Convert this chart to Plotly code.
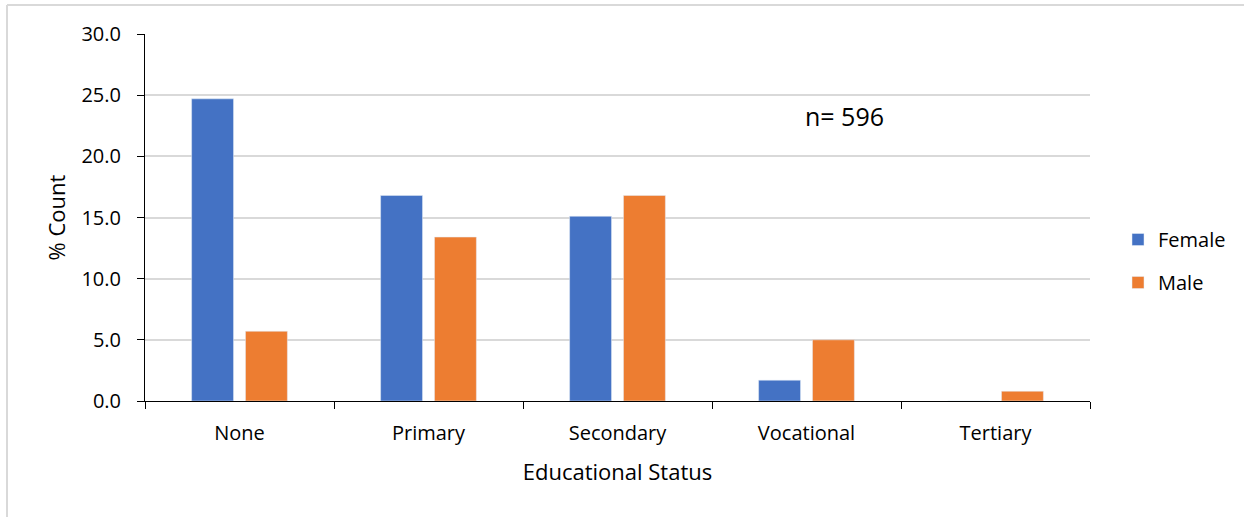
import plotly.graph_objects as go

# Share of respondents (%) by educational status and sex
categories = ["None", "Primary", "Secondary", "Vocational", "Tertiary"]
female = [24.7, 16.8, 15.1, 1.7, 0.0]
male = [5.7, 13.4, 16.8, 5.0, 0.8]
y_ticks = [0, 5, 10, 15, 20, 25, 30]
y_tick_labels = ["0.0", "5.0", "10.0", "15.0", "20.0", "25.0", "30.0"]

FONT = "Open Sans, Calibri, Carlito, sans-serif"
BLUE = "#4472C4"
ORANGE = "#ED7D31"
TEXT = "#000000"

fig = go.Figure()
fig.add_trace(go.Bar(x=categories, y=female, name="Female", marker_color=BLUE,
                     legendgroup="f"))
fig.add_trace(go.Bar(x=categories, y=male, name="Male", marker_color=ORANGE,
                     legendgroup="m"))

# Plot-area geometry in pixels
W, H = 1244, 517
L, R, T, B = 145, 154, 34, 116
pw, ph = W - L - R, H - T - B

def px_to_paper_x(px):
    return (px - L) / pw

def px_to_paper_y(py):
    return (H - B - py) / ph

fig.update_layout(
    width=W, height=H,
    margin=dict(l=L, r=R, t=T, b=B, pad=0),
    paper_bgcolor="white", plot_bgcolor="white",
    font=dict(family=FONT, size=20, color=TEXT),
    barmode="group", bargap=0.43, bargroupgap=0.222,
    showlegend=True,
    legend=dict(x=px_to_paper_x(1118), xanchor="left",
                y=px_to_paper_y(261), yanchor="middle",
                font=dict(family=FONT, size=20, color=TEXT),
                tracegroupgap=14, traceorder="grouped",
                bgcolor="rgba(0,0,0,0)", itemwidth=30),
    xaxis=dict(
        type="category", tickson="boundaries", ticks="outside", ticklen=7,
        tickcolor=TEXT, tickwidth=1, showline=True, linecolor=TEXT,
        linewidth=1, showgrid=False, ticklabelstandoff=14,
        tickfont=dict(family=FONT, size=20, color=TEXT),
        title=dict(text="Educational Status", standoff=19,
                   font=dict(family=FONT, size=22, color=TEXT)),
    ),
    yaxis=dict(
        range=[0, 30], tickvals=y_ticks, ticktext=y_tick_labels,
        ticks="outside", ticklen=7, tickcolor=TEXT, tickwidth=1,
        showline=True, linecolor=TEXT, linewidth=1, ticklabelstandoff=12,
        showgrid=True, gridcolor="#D9D9D9", gridwidth=1.5, zeroline=False,
        tickfont=dict(family=FONT, size=20, color=TEXT),
        title=dict(text="% Count", standoff=9,
                   font=dict(family=FONT, size=22, color=TEXT)),
    ),
    annotations=[dict(text="n= 596", xref="paper", yref="paper",
                      x=px_to_paper_x(844), y=px_to_paper_y(116),
                      xanchor="center", yanchor="middle", showarrow=False,
                      font=dict(family=FONT, size=25, color=TEXT))],
    shapes=[
        dict(type="line", xref="paper", yref="paper",
             x0=px_to_paper_x(7), x1=px_to_paper_x(1260),
             y0=px_to_paper_y(5), y1=px_to_paper_y(5),
             line=dict(color="#D9D9D9", width=2)),
        dict(type="line", xref="paper", yref="paper",
             x0=px_to_paper_x(7), x1=px_to_paper_x(7),
             y0=px_to_paper_y(5), y1=px_to_paper_y(530),
             line=dict(color="#D9D9D9", width=2)),
    ],
)

fig.write_html("out.html")
